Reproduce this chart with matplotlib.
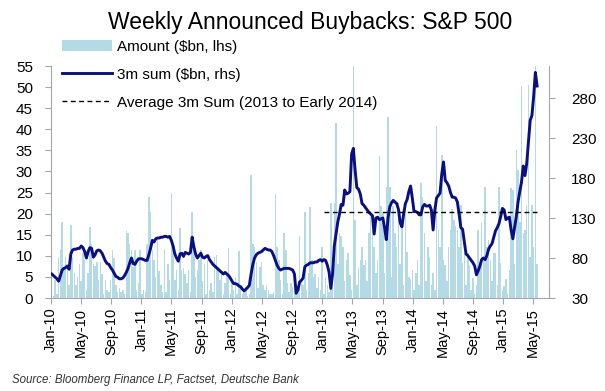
import matplotlib
matplotlib.use("Agg")
import matplotlib.pyplot as plt
import matplotlib.dates as mdates
from matplotlib.patches import Patch
from matplotlib.lines import Line2D
import pandas as pd

plt.rcParams['font.family'] = ['Liberation Sans', 'DejaVu Sans']

# weekly announced buybacks, $bn (left axis)
bars_2010 = [1.5, 0.5, 4.3, 1, 9.8, 11.7, 18, 7.3, 9.8, 7, 3, 17.3, 9.8, 6, 3, 5, 8, 4, 10.7, 9,
             2, 6, 16.8, 12.8, 8, 7.7, 8.5, 4.3, 8.5, 5.7, 1, 4.3, 2, 1.5, 4.3, 11.3, 9.4, 3, 1.5, 2.3,
             1.5, 2, 1, 15.9, 15.3, 12.9, 11.3, 7.3, 11.3, 2, 3.5, 11.4]
bars_2011 = [1, 2, 1.5, 12.7, 24, 20.4, 11.4, 9, 5, 13.8, 6.5, 3, 1.5, 11.6, 1.5, 8, 4.3, 24.8, 12.8, 4.3,
             6.7, 2, 16.5, 6.7, 7, 5.7, 3.5, 6.7, 1.5, 20.3, 11.4, 5, 6.7, 9, 11.4, 4, 8, 1, 9, 2,
             3.5, 1.5, 9.7, 10.1, 7.3, 4.3, 6, 1, 3.5, 6, 11.8, 1]
bars_2012 = [4.3, 2, 5, 1, 11.1, 2.5, 1, 1.5, 2.5, 0.5, 1, 29.2, 12.8, 12, 8.5, 2.3, 7.3, 8.5, 3, 2,
             3, 2, 1, 1, 1.5, 24.6, 12, 9, 4.3, 1, 15.4, 11.4, 3.5, 1.5, 3.5, 2.5, 4.3, 1, 1.5, 14.7,
             4.3, 3, 20.5, 2, 6, 21.6, 9, 5, 5.7, 2.3, 5, 2, 12.2]
bars_2013 = [1, 5, 3, 1.5, 22.5, 6, 22.5, 41.5, 8, 15.4, 14.6, 12.2, 4, 9, 10.6, 5.4, 2, 56, 18.5, 3,
             7, 9, 12.2, 7.9, 9, 4, 15.4, 20.1, 19.3, 12.2, 6, 9, 33.6, 21.7, 20.1, 6, 26.4, 43, 26.4, 5,
             21.7, 15.4, 12.2, 22.5, 8, 18, 3, 21.3, 11, 5, 4.5, 6.6]
bars_2014 = [2, 5.9, 9, 3, 27.2, 24, 15.4, 4, 12.2, 9.8, 3, 6, 2, 40.7, 16.2, 12.2, 34, 9, 7.9, 4,
             12.2, 16.2, 21, 18.5, 17, 16.2, 12.2, 22, 8.3, 10.6, 3, 10.6, 7.9, 2, 4.8, 1, 3, 16.2, 7.9, 17.7,
             9, 26.4, 12.2, 13.8, 9, 4, 10.6, 10.6, 3, 26.4, 8.3, 2]
bars_2015 = [2.8, 4.4, 1, 6.6, 26, 25.7, 8, 35.2, 30.4, 18, 50.2, 15.4, 16.2, 22, 50.6, 9.8, 22, 12, 57, 8]

# 3m sum, $bn (right axis)
sum_2010 = [60, 58, 56, 54, 51, 58, 65, 67, 68, 70, 66, 85, 90, 91, 91, 92, 92, 95, 93, 88,
            80, 88, 93, 92, 81, 84, 89, 90, 89, 86, 81, 76, 73, 72, 68, 65, 61, 57, 56, 54,
            54, 55, 58, 62, 67, 74, 80, 73, 72, 76, 79, 79]
sum_2011 = [79, 78, 77, 77, 84, 92, 102, 100, 104, 105, 105, 106, 106, 107, 107, 106, 107, 102, 95, 85,
            80, 76, 85, 86, 82, 87, 86, 85, 87, 106, 94, 85, 80, 83, 86, 81, 80, 82, 83, 78,
            75, 72, 70, 68, 66, 64, 62, 60, 62, 60, 58, 55]
sum_2012 = [51, 48, 48, 47, 45, 44, 41, 39, 41, 43, 46, 60, 72, 80, 84, 86, 87, 88, 90, 92,
            91, 90, 90, 88, 83, 77, 71, 67, 65, 66, 67, 67, 67, 67, 66, 65, 60, 36, 40, 50,
            52, 55, 69, 71, 72, 74, 74, 74, 75, 75, 77, 78, 76]
sum_2013 = [78, 77, 71, 62, 42, 60, 95, 110, 125, 135, 147, 146, 165, 160, 161, 163, 210, 217, 190, 168,
            166, 160, 148, 146, 143, 140, 137, 135, 133, 110, 130, 131, 128, 129, 130, 118, 103, 130, 144, 149,
            152, 150, 148, 141, 124, 119, 135, 148, 153, 163, 170, 155]
sum_2014 = [138, 138, 137, 134, 134, 144, 147, 145, 145, 146, 140, 115, 140, 155, 158, 161, 185, 200, 177, 174,
            170, 162, 156, 156, 155, 150, 135, 118, 116, 100, 85, 83, 80, 77, 74, 70, 59, 64, 70, 78,
            80, 78, 83, 91, 95, 98, 106, 114, 118, 123, 132, 142]
sum_2015 = [140, 128, 130, 131, 115, 104, 118, 132, 150, 163, 175, 195, 183, 198, 225, 252, 258, 282, 312, 295]

avg_3m_sum = 137          # average 3m sum, 2013 to early 2014
avg_start = "2013-01-01"

bars = bars_2010 + bars_2011 + bars_2012 + bars_2013 + bars_2014 + bars_2015
sums = sum_2010 + sum_2011 + sum_2012 + sum_2013 + sum_2014 + sum_2015
weeks = pd.date_range("2010-01-04", periods=len(bars), freq="7D")

barColor = "#B4DAE6"
lineColor = "#0A0F82"
spineColor = "#A6A6A6"

fig = plt.figure(figsize=(6.05, 3.91), dpi=100)
ax = fig.add_axes([51/605, 1 - 298/391, 498/605, 232/391])
ax2 = ax.twinx()

ax.bar(weeks, bars, width=6, color=barColor, linewidth=0)
ax2.plot(weeks, sums, color=lineColor, linewidth=2.1, solid_joinstyle="round")
avg_weeks = weeks[weeks >= pd.Timestamp(avg_start)]
ax2.plot(avg_weeks, [avg_3m_sum] * len(avg_weeks), color="black", linewidth=1.0, dashes=(3.5, 2.5))

ax.set_ylim(0, 55)
ax.set_yticks(range(0, 56, 5))
ax2.set_ylim(30, 320)
ax2.set_yticks(range(30, 281, 50))
ax.set_xlim(pd.Timestamp("2010-01-01"), pd.Timestamp("2015-07-05"))
ax.xaxis.set_major_locator(mdates.MonthLocator(bymonth=[1, 5, 9]))
ax.xaxis.set_major_formatter(mdates.DateFormatter("%b-%y"))

for a in (ax, ax2):
    a.spines["top"].set_visible(False)
    for s in ("left", "right", "bottom"):
        a.spines[s].set_color(spineColor)
ax.spines["right"].set_visible(False)
ax2.spines["left"].set_visible(False)
ax2.spines["bottom"].set_visible(False)

ax.tick_params(axis="y", direction="out", length=4, color=spineColor, labelsize=11, pad=9)
ax2.tick_params(axis="y", direction="out", length=4, color=spineColor, labelsize=11, pad=12)
ax.tick_params(axis="x", direction="out", length=4, color=spineColor, labelsize=10.5, pad=3,
               labelrotation=90)

handles = [Patch(facecolor=barColor, edgecolor="none"),
           Line2D([], [], color=lineColor, linewidth=2.1),
           Line2D([], [], color="black", linewidth=1.0, dashes=(3.5, 2.5))]
labels = ["Amount ($bn, lhs)", "3m sum ($bn, rhs)", "Average 3m Sum (2013 to Early 2014)"]
fig.legend(handles, labels, loc="upper left", bbox_to_anchor=(62/605, 1 - 40/391), frameon=False,
           fontsize=11, labelspacing=0.9, handlelength=3.3, handletextpad=0.3, borderpad=0,
           borderaxespad=0)

fig.text(310/605, 1 - 22/391, "Weekly Announced Buybacks: S&P 500", ha="center", va="center",
         fontsize=16.5)
fig.text(12/605, 1 - 380/391, "Source: Bloomberg Finance LP, Factset, Deutsche Bank",
         style="italic", fontsize=8.3, va="center", color="#333333")

fig.savefig("out.png", dpi=100)
